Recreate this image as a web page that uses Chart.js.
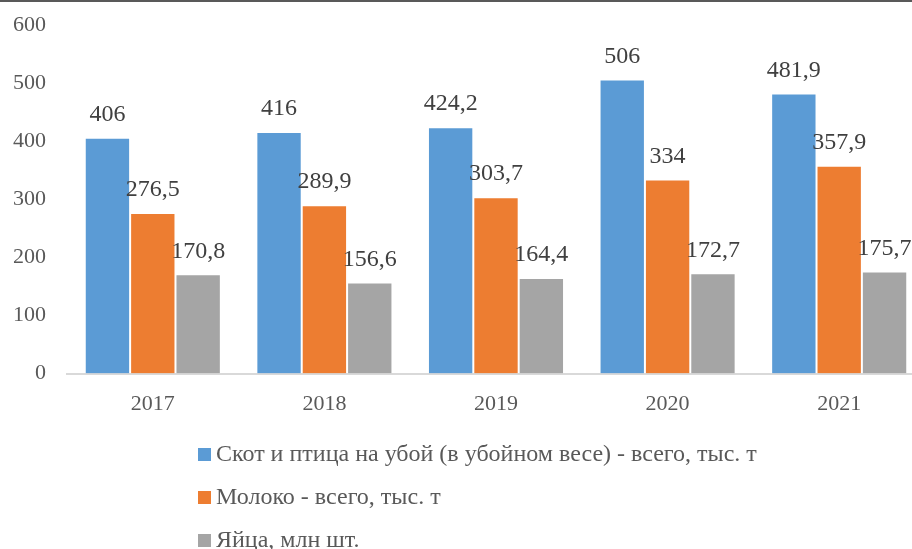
<!DOCTYPE html>
<html>
<head>
<meta charset="utf-8">
<script src="https://cdn.jsdelivr.net/npm/chart.js@4"></script>
<style>
  html, body { margin: 0; padding: 0; background: #fff; overflow: hidden; }
  #wrap { position: relative; width: 912px; height: 549px; overflow: hidden; }
  #topline { position: absolute; left: 0; top: 0; width: 912px; height: 2px; background: #595959; z-index: 2; }
  #chart { position: absolute; left: -20px; top: 0; }
  #legend { position: absolute; left: 198px; top: 432px; font-family: "Liberation Serif", "Times New Roman", serif; font-size: 24px; color: #595959; }
  #legend div { height: 43px; line-height: 43px; white-space: nowrap; }
  #legend span.box { display: inline-block; width: 13px; height: 13px; margin-right: 5px; vertical-align: 0px; }
</style>
</head>
<body>
<div id="wrap">
  <div id="topline"></div>
  <canvas id="chart" width="945" height="549"></canvas>
  <div id="legend"></div>
</div>
<script>
// years on the x axis
const years = ['2017', '2018', '2019', '2020', '2021'];

// series values
const livestock = [406, 416, 424.2, 506, 481.9];
const milk = [276.5, 289.9, 303.7, 334, 357.9];
const eggs = [170.8, 156.6, 164.4, 172.7, 175.7];

const seriesNames = [
  'Скот и птица на убой (в убойном весе) - всего, тыс. т',
  'Молоко - всего, тыс. т',
  'Яйца, млн шт.'
];
const seriesColors = ['#5B9BD5', '#ED7D31', '#A5A5A5'];

// y axis ticks
const yMin = 0;
const yMax = 600;
const yStep = 100;

const FONT = '"Liberation Serif", "Times New Roman", serif';

// draws the value above every bar, with a decimal comma
const valueLabels = {
  id: 'valueLabels',
  afterDatasetsDraw(chart) {
    const ctx = chart.ctx;
    ctx.save();
    ctx.font = '24px ' + FONT;
    ctx.fillStyle = '#404040';
    ctx.textAlign = 'center';
    ctx.textBaseline = 'middle';
    chart.data.datasets.forEach((ds, i) => {
      chart.getDatasetMeta(i).data.forEach((bar, j) => {
        const txt = String(ds.data[j]).replace('.', ',');
        ctx.fillText(txt, bar.x, bar.y - 23);
      });
    });
    ctx.restore();
  }
};

const ctx = document.getElementById('chart');
const chart = new Chart(ctx, {
  type: 'bar',
  data: {
    labels: years,
    datasets: [livestock, milk, eggs].map((values, i) => ({
      label: seriesNames[i],
      data: values,
      backgroundColor: seriesColors[i],
      borderColor: 'rgba(255,255,255,0.35)',
      borderWidth: 1,
      categoryPercentage: 0.793,
      barPercentage: 1
    }))
  },
  options: {
    responsive: false,
    animation: false,
    layout: {
      padding: { left: 12, right: 0, top: 25, bottom: 115 }
    },
    plugins: {
      legend: { display: false },
      tooltip: { enabled: false }
    },
    scales: {
      x: {
        grid: { display: false, drawTicks: false },
        border: { display: true, color: '#D9D9D9', width: 2 },
        ticks: {
          color: '#595959',
          padding: 17,
          font: { family: FONT, size: 22 }
        }
      },
      y: {
        min: yMin,
        max: yMax,
        grid: { display: false, drawTicks: false },
        border: { display: false },
        ticks: {
          stepSize: yStep,
          color: '#595959',
          padding: 21,
          font: { family: FONT, size: 22 }
        },
        // the label padding should not push the plot down from the top
        afterFit(scale) {
          scale.paddingTop = 0;
          scale.paddingBottom = 0;
        }
      }
    }
  },
  plugins: [valueLabels]
});

// legend built from the datasets, stacked one item per row
const legend = document.getElementById('legend');
chart.data.datasets.forEach((ds) => {
  const row = document.createElement('div');
  const box = document.createElement('span');
  box.className = 'box';
  box.style.background = ds.backgroundColor;
  row.appendChild(box);
  row.appendChild(document.createTextNode(ds.label));
  legend.appendChild(row);
});
</script>
</body>
</html>
